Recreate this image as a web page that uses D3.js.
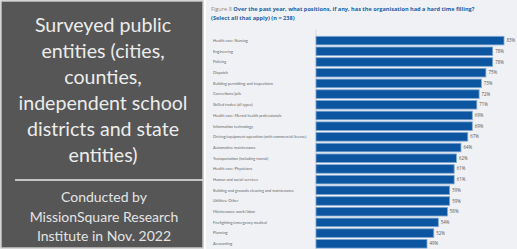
<!DOCTYPE html>
<html>
<head>
<meta charset="utf-8">
<script src="https://cdn.jsdelivr.net/npm/d3@7"></script>
<style>
  html, body { margin: 0; padding: 0; background: #fff; }
  svg { display: block; }
</style>
</head>
<body>
<svg id="chart" width="517" height="249"></svg>
<script>
(function() {

    var categories = [
        'Health care: Nursing',
        'Engineering',
        'Policing',
        'Dispatch',
        'Building permitting and inspections',
        'Corrections/jails',
        'Skilled trades (all types)',
        'Health care: Mental health professionals',
        'Information technology',
        'Driving/equipment operation (with commercial license)',
        'Automotive maintenance',
        'Transportation (including transit)',
        'Health care: Physicians',
        'Human and social services',
        'Building and grounds cleaning and maintenance',
        'Utilities: Other',
        'Maintenance work/labor',
        'Firefighting/emergency medical',
        'Planning',
        'Accounting'
    ];
    var values = [83, 78, 78, 75, 73, 72, 71, 69, 69, 67, 64, 62, 61, 61, 59, 59, 58, 54, 52, 49];

    var panelLines = ['Surveyed public', 'entities (cities,', 'counties,',
        'independent school', 'districts and state', 'entities)'];
    var creditLines = ['Conducted by', 'MissionSquare Research', 'Institute in Nov. 2022'];

    var svg = d3.select('#chart');

    // left dark panel
    svg.append('rect')
        .attr('x', 0).attr('y', 0).attr('width', 517).attr('height', 249)
        .attr('fill', '#ffffff');
    svg.append('rect')
        .attr('x', 1).attr('y', 1).attr('width', 202).attr('height', 247)
        .attr('fill', '#565656')
        .attr('stroke', '#c8c8c8')
        .attr('stroke-width', 1.5);

    svg.selectAll('text.panel').data(panelLines)
        .enter().append('text')
        .attr('class', 'panel')
        .attr('x', 103)
        .attr('y', function(d, i) { return 32 + i * 26; })
        .attr('text-anchor', 'middle')
        .attr('font-family', 'Lato, sans-serif')
        .attr('font-size', 19.6)
        .attr('fill', '#ececec')
        .text(function(d) { return d; });

    svg.append('line')
        .attr('x1', 15).attr('x2', 203)
        .attr('y1', 180).attr('y2', 180)
        .attr('stroke', '#e8e8e8')
        .attr('stroke-width', 1.5);

    svg.selectAll('text.credit').data(creditLines)
        .enter().append('text')
        .attr('class', 'credit')
        .attr('x', 104)
        .attr('y', function(d, i) { return 202 + i * 19.5; })
        .attr('text-anchor', 'middle')
        .attr('font-family', 'Lato, sans-serif')
        .attr('font-size', 14)
        .attr('fill', '#e4e4e4')
        .text(function(d) { return d; });

    // right figure panel
    svg.append('rect')
        .attr('x', 206).attr('y', 0).attr('width', 311).attr('height', 249)
        .attr('fill', '#eff1f4');

    var title = svg.append('text')
        .attr('x', 211).attr('y', 11)
        .attr('font-family', 'Open Sans, sans-serif')
        .attr('font-size', 5.6);
    title.append('tspan').attr('fill', '#8a8a8a').text('Figure 8  ');
    title.append('tspan').attr('fill', '#1d5fa6').attr('font-weight', 'bold')
        .text('Over the past year, what positions, if any, has the organisation had a hard time filling?');
    svg.append('text')
        .attr('x', 211).attr('y', 20)
        .attr('font-family', 'Open Sans, sans-serif')
        .attr('font-size', 5.6)
        .attr('font-weight', 'bold')
        .attr('fill', '#1d5fa6')
        .text('(Select all that apply) (n = 238)');

    var x = d3.scaleLinear().domain([0, 100]).range([316, 542.5]);
    var y = d3.scaleBand().domain(categories).range([34.2, 250.2]).padding(0.2);

    svg.append('line')
        .attr('x1', x(0)).attr('x2', x(0))
        .attr('y1', 29).attr('y2', 249)
        .attr('stroke', '#d4d6da')
        .attr('stroke-width', 0.8);

    var rows = svg.selectAll('g.row').data(categories)
        .enter().append('g')
        .attr('class', 'row');

    rows.append('text')
        .attr('x', 213)
        .attr('y', function(d) { return y(d) + y.bandwidth() / 2; })
        .attr('dy', '0.35em')
        .attr('font-family', 'Lato, sans-serif')
        .attr('font-size', 3.9)
        .attr('fill', '#666')
        .text(function(d) { return d; });

    rows.append('rect')
        .attr('x', x(0))
        .attr('y', function(d) { return y(d); })
        .attr('width', function(d, i) { return x(values[i]) - x(0); })
        .attr('height', y.bandwidth())
        .attr('fill', '#0c55a0')
        .attr('stroke', '#7ea6d3')
        .attr('stroke-width', 0.8);

    rows.append('text')
        .attr('x', function(d, i) { return x(values[i]) + 2.5; })
        .attr('y', function(d) { return y(d) + y.bandwidth() / 2; })
        .attr('dy', '0.35em')
        .attr('font-family', 'Open Sans, sans-serif')
        .attr('font-size', 4.4)
        .attr('fill', '#555')
        .text(function(d, i) { return values[i] + '%'; });
})();
</script>
</body>
</html>
